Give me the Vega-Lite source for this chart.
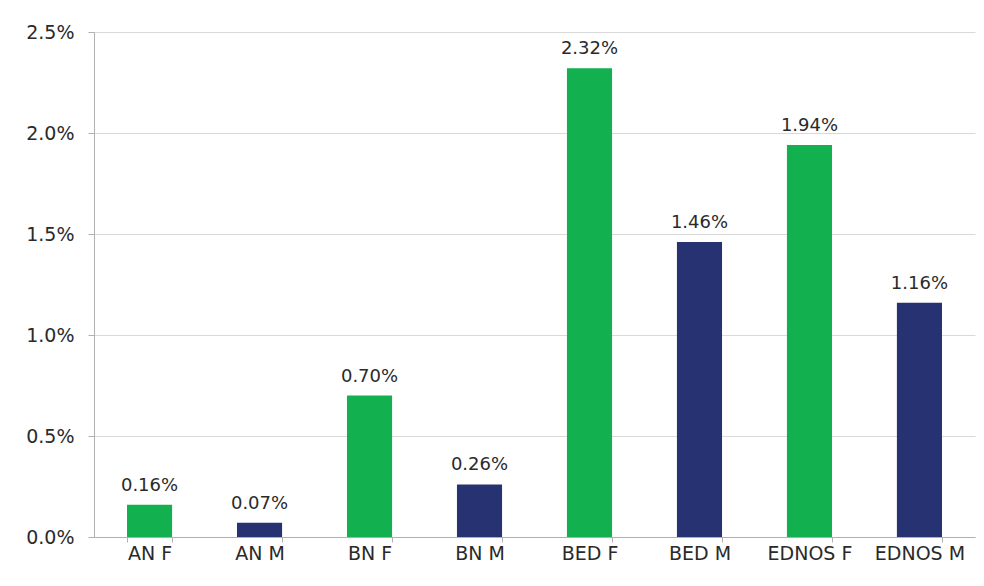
{
  "$schema": "https://vega.github.io/schema/vega-lite/v6.json",
  "autosize": "none",
  "width": 881,
  "height": 505,
  "padding": {"left": 94, "top": 32, "right": 9, "bottom": 49},
  "background": "white",
  "data": {
    "values": [
      {"cat": "AN F", "sex": "F", "value": 0.0016},
      {"cat": "AN M", "sex": "M", "value": 0.0007},
      {"cat": "BN F", "sex": "F", "value": 0.0070},
      {"cat": "BN M", "sex": "M", "value": 0.0026},
      {"cat": "BED F", "sex": "F", "value": 0.0232},
      {"cat": "BED M", "sex": "M", "value": 0.0146},
      {"cat": "EDNOS F", "sex": "F", "value": 0.0194},
      {"cat": "EDNOS M", "sex": "M", "value": 0.0116}
    ]
  },
  "encoding": {
    "x": {
      "field": "cat", "type": "nominal", "sort": null, "title": null,
      "scale": {"paddingInner": 0.59, "paddingOuter": 0.3},
      "axis": {
        "labelAngle": 0, "labelFont": "DejaVu Sans", "labelFontSize": 19, "labelColor": "#2a2a2a",
        "domainColor": "#b0b0b0", "tickColor": "#b0b0b0", "tickBand": "extent", "tickSize": 5,
        "labelPadding": 2, "grid": false, "labelOverlap": false
      }
    },
    "y": {
      "field": "value", "type": "quantitative", "title": null,
      "scale": {"domain": [0, 0.025], "nice": false},
      "axis": {
        "format": ".1%", "values": [0, 0.005, 0.01, 0.015, 0.02, 0.025],
        "labelFont": "DejaVu Sans", "labelFontSize": 19, "labelColor": "#2a2a2a",
        "domainColor": "#b0b0b0", "tickColor": "#b0b0b0", "tickSize": 6, "labelPadding": 14,
        "gridColor": "#d9d9d9", "gridWidth": 1
      }
    }
  },
  "layer": [
    {
      "mark": {"type": "bar"},
      "encoding": {
        "color": {
          "field": "sex", "type": "nominal", "legend": null,
          "scale": {"domain": ["F", "M"], "range": ["#12b04f", "#263272"]}
        }
      }
    },
    {
      "mark": {"type": "text", "baseline": "alphabetic", "dy": -14, "font": "DejaVu Sans", "fontSize": 18, "color": "#2a2a2a"},
      "encoding": {
        "text": {"field": "value", "type": "quantitative", "format": ".2%"}
      }
    }
  ],
  "config": {"view": {"stroke": null}}
}
